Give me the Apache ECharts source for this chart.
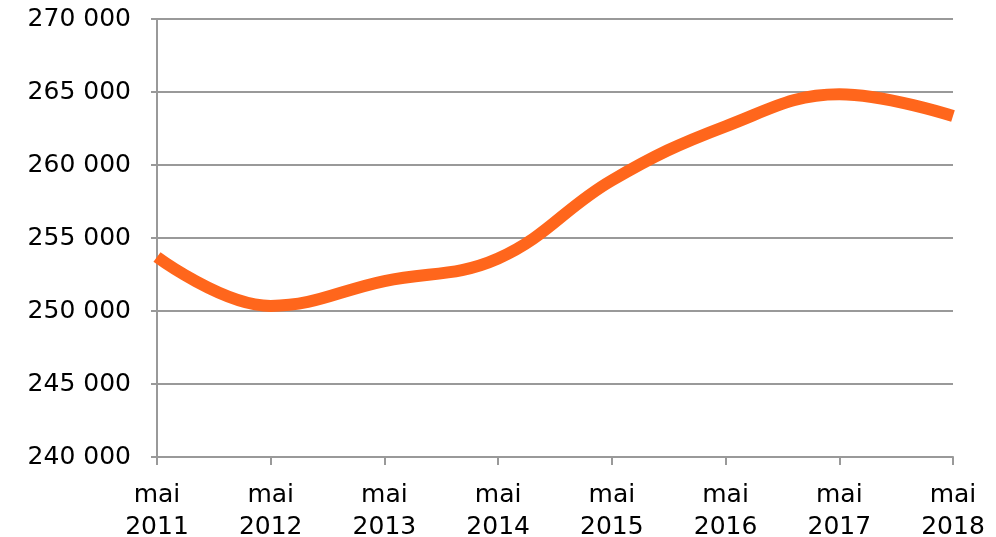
<!DOCTYPE html>
<html>
<head>
<meta charset="utf-8">
<script src="https://cdn.jsdelivr.net/npm/echarts@6/dist/echarts.min.js"></script>
<style>
  html, body { margin: 0; padding: 0; background: #fff; }
  #main { width: 996px; height: 537px; }
</style>
</head>
<body>
<div id="main"></div>
<script>
// years on the x axis (all in May)
const categories = ["mai\n2011", "mai\n2012", "mai\n2013", "mai\n2014", "mai\n2015", "mai\n2016", "mai\n2017", "mai\n2018"];
const values = [253700, 250350, 252050, 253600, 258950, 262650, 264850, 263350];
const yTicks = [240000, 270000, 5000]; // min, max, step

var myChart = echarts.init(document.getElementById("main"));

// "270 000" style
const fmt = (v) => String(v).replace(/\B(?=(\d{3})+(?!\d))/g, " ");

var option = {
  animation: false,
  grid: { left: 157, right: 43, top: 19, bottom: 80, outerBoundsMode: "none" },
  xAxis: {
    type: "category",
    data: categories,
    boundaryGap: false,
    axisLine: { lineStyle: { color: "#999", width: 2 } },
    axisTick: { length: 8, lineStyle: { color: "#999", width: 2 } },
    axisLabel: {
      color: "#000",
      fontFamily: "DejaVu Sans",
      fontSize: 25,
      lineHeight: 32,
      margin: 22,
      interval: 0,
      showMaxLabel: true,
    },
  },
  yAxis: {
    type: "value",
    min: yTicks[0],
    max: yTicks[1],
    interval: yTicks[2],
    axisLine: { show: true, lineStyle: { color: "#999", width: 2 } },
    axisTick: { show: true, length: 6, lineStyle: { color: "#999", width: 2 } },
    splitLine: { lineStyle: { color: "#999", width: 2 } },
    axisLabel: {
      color: "#000",
      fontFamily: "DejaVu Sans",
      fontSize: 25,
      margin: 26,
      formatter: fmt,
    },
  },
  series: [
    {
      type: "line",
      data: values,
      smooth: 0.4,
      symbol: "none",
      lineStyle: { color: "#FF661C", width: 12, cap: "butt" },
    },
  ],
};

myChart.setOption(option);
</script>
</body>
</html>
